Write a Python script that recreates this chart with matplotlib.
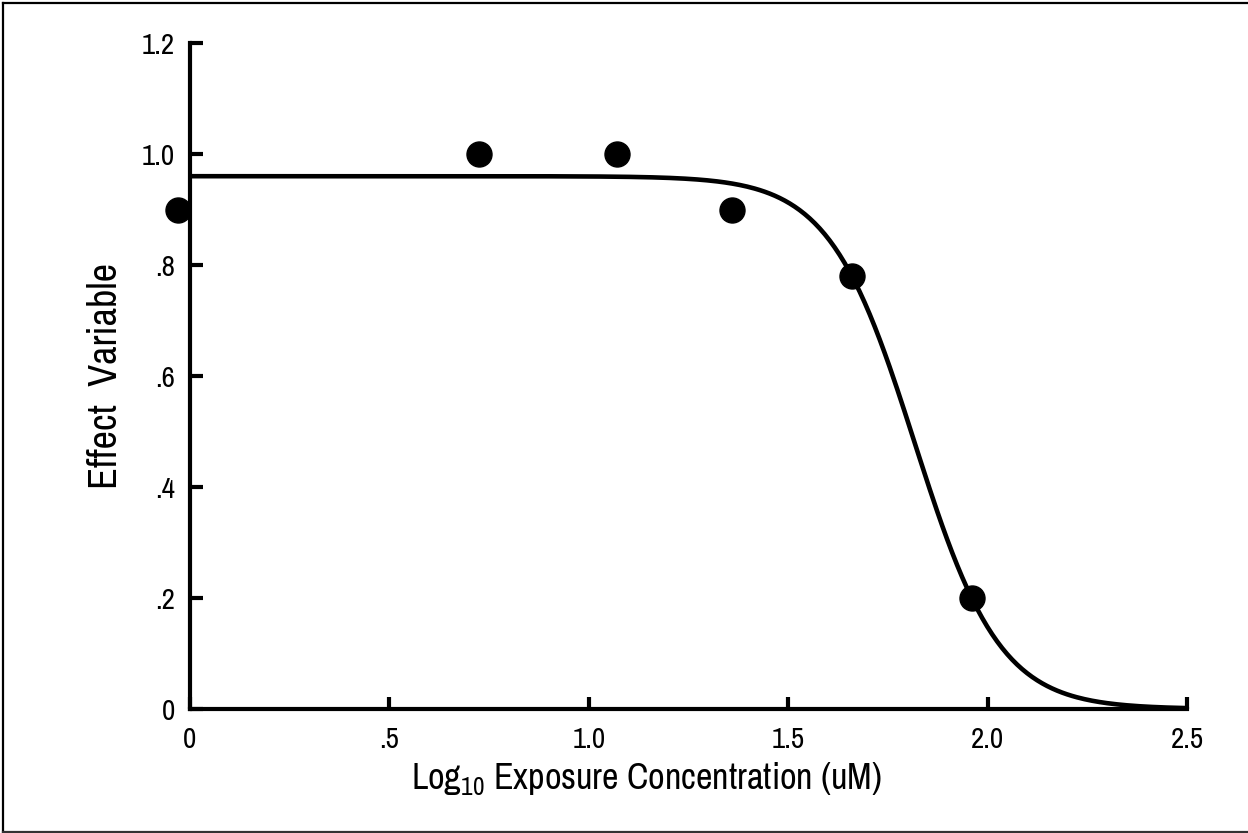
import numpy as np
import matplotlib.pyplot as plt
from matplotlib.lines import Line2D

# observed points (log10 conc, effect)
log_conc = [-0.03, 0.725, 1.07, 1.36, 1.66, 1.96]
effect = [0.90, 1.00, 1.00, 0.90, 0.78, 0.20]

# fitted curve parameters
fit_top = 0.96
fit_log_ec50 = 1.817
fit_hill = 4.05
fit_range = (0.0, 2.5)

xticks = [0, 0.5, 1.0, 1.5, 2.0, 2.5]
xtick_labels = ["0", ".5", "1.0", "1.5", "2.0", "2.5"]
yticks = [0, 0.2, 0.4, 0.6, 0.8, 1.0, 1.2]
ytick_labels = ["0", ".2", ".4", ".6", ".8", "1.0", "1.2"]

fam = "Archivo Narrow"
plt.rcParams['font.family'] = [fam, 'DejaVu Sans']
plt.rcParams['mathtext.fontset'] = 'custom'
plt.rcParams['mathtext.rm'] = fam

W, H = 1248, 833
fig = plt.figure(figsize=(W / 100, H / 100), dpi=100)
ax = fig.add_axes([190 / W, 1 - 709 / H, (1187 - 190) / W, (709 - 43) / H])

# border: left, top and bottom only (right edge cut off in the original)
fx = 2.5 / W
fy_top = 1 - 2.5 / H
fy_bot = 1.5 / H
fig.add_artist(Line2D([fx, fx], [fy_bot, fy_top], color='black', lw=1.6))
fig.add_artist(Line2D([fx, 1], [fy_top, fy_top], color='black', lw=1.6))
fig.add_artist(Line2D([fx, 1], [fy_bot, fy_bot], color='#333333', lw=1.6))

xs = np.linspace(fit_range[0], fit_range[1], 400)
ys = fit_top / (1 + 10 ** ((xs - fit_log_ec50) * fit_hill))
ax.plot(xs, ys, color='black', lw=3.3, solid_capstyle='butt')
ax.plot(log_conc, effect, 'o', color='black', ms=18, clip_on=False, zorder=5)

ax.set_xlim(0, 2.5)
ax.set_ylim(0, 1.2)
ax.set_xticks(xticks)
ax.set_xticklabels(xtick_labels)
ax.set_yticks(yticks)
ax.set_yticklabels(ytick_labels)

for s in ['top', 'right']:
    ax.spines[s].set_visible(False)
for s in ['left', 'bottom']:
    ax.spines[s].set_linewidth(3)
    ax.spines[s].set_capstyle('projecting')

ax.tick_params(direction='in', length=9, width=3, labelsize=21)
ax.tick_params(axis='x', pad=12)
ax.tick_params(axis='y', pad=11)

ax.set_xlabel(r"Log$_{10}$ Exposure Concentration (uM)", fontsize=26)
# title sits left of the axis centre in the original
ax.xaxis.set_label_coords(0.458, -0.077)
ax.set_ylabel("Effect  Variable", fontsize=29, labelpad=13)

fig.savefig('out.png', dpi=100)
